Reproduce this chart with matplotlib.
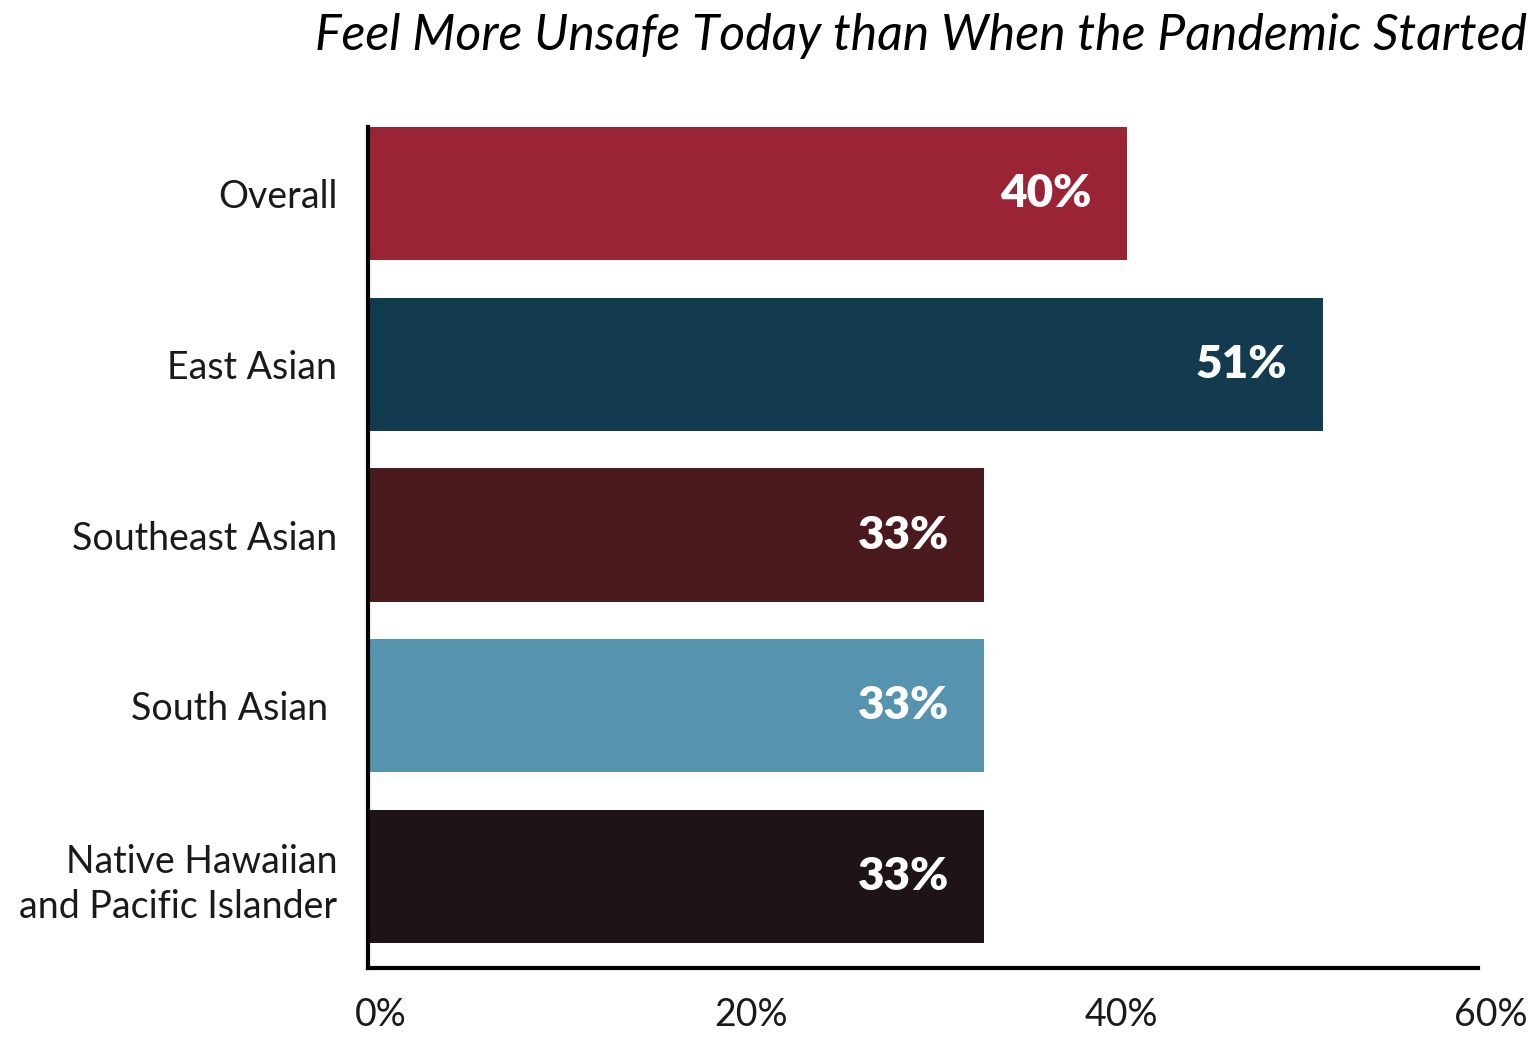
import matplotlib
matplotlib.use("Agg")
import matplotlib.pyplot as plt
from matplotlib.transforms import ScaledTranslation

categories = ["Overall", "East Asian", "Southeast Asian", "South Asian ", "Native Hawaiian\nand Pacific Islander"]
values = [41.0, 51.6, 33.3, 33.3, 33.3]
value_labels = ["40%", "51%", "33%", "33%", "33%"]
colors = ["#9B2336", "#123B50", "#4B1A1F", "#5593AF", "#1E1417"]
xticks = [0, 20, 40, 60]
xtick_labels = ["0%", "20%", "40%", "60%"]
title = "Feel More Unsafe Today than When the Pandemic Started"

plt.rcParams['font.family'] = ['Lato', 'DejaVu Sans']

W, H = 1533, 1037
fig = plt.figure(figsize=(W / 100, H / 100), dpi=100)
left, right = 368 / W, 1478 / W
bottom, top = 1 - 968 / H, 1 - 127 / H
ax = fig.add_axes([left, bottom, right - left, top - bottom])

y = list(range(len(categories)))
ax.barh(y, values, height=0.78, color=colors, zorder=2)
ax.set_ylim(4.536, -0.39)
ax.set_xlim(0, 60)

for yi, v, lab in zip(y, values, value_labels):
    ax.text(v - 1.9, yi, lab, ha='right', va='center', color='white',
            fontsize=33, fontweight='heavy')

ax.set_yticks(y)
ax.set_yticklabels(categories, fontsize=27, ha='right', linespacing=1.3, color='#1a1a1a')
ax.tick_params(axis='y', length=0, pad=22)
ax.set_xticks(xticks)
ax.set_xticklabels(xtick_labels, fontsize=27, color='#1a1a1a')
ax.tick_params(axis='x', length=0, pad=21)
off = ScaledTranslation(13 / 100, 0, fig.dpi_scale_trans)
for t in ax.get_xticklabels():
    t.set_transform(t.get_transform() + off)

for s in ['top', 'right']:
    ax.spines[s].set_visible(False)
for s in ['left', 'bottom']:
    ax.spines[s].set_linewidth(3)
    ax.spines[s].set_color('black')

fig.text(1527 / W, 1 - 36 / H, title, ha='right', va='center', fontsize=36,
         style='italic', color='black')

fig.savefig("out.png", dpi=100)
